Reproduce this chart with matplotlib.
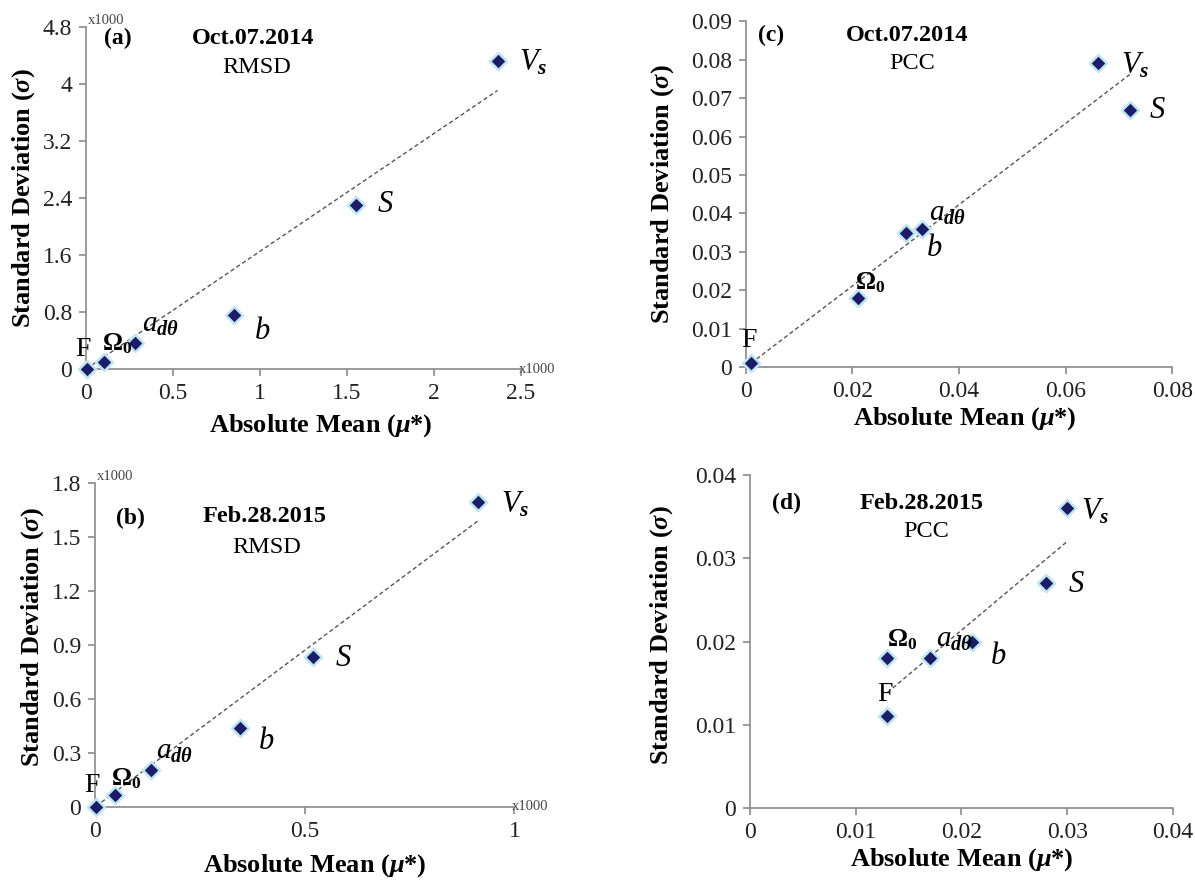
import numpy as np
import matplotlib
matplotlib.use("Agg")
import matplotlib.pyplot as plt

plt.rcParams["font.family"] = ["Liberation Serif", "DejaVu Serif"]
plt.rcParams["mathtext.fontset"] = "custom"
plt.rcParams["mathtext.rm"] = "Liberation Serif"
plt.rcParams["mathtext.it"] = "Liberation Serif:italic"
plt.rcParams["mathtext.bf"] = "Liberation Serif:bold"
plt.rcParams["mathtext.bfit"] = "Liberation Serif:bold:italic"

# Parameters (same order in every panel)
params = ["F", "Omega0", "a_dtheta", "b", "S", "Vs"]

# (a) Oct.07.2014, RMSD  (values in thousands)
rmsd_oct_mu = [0.005, 0.105, 0.28, 0.85, 1.55, 2.365]
rmsd_oct_sigma = [0.0, 0.105, 0.36, 0.755, 2.31, 4.33]

# (b) Feb.28.2015, RMSD  (values in thousands)
rmsd_feb_mu = [0.002, 0.047, 0.133, 0.345, 0.519, 0.913]
rmsd_feb_sigma = [0.0, 0.069, 0.204, 0.44, 0.833, 1.694]

# (c) Oct.07.2014, PCC
pcc_oct_mu = [0.001, 0.021, 0.033, 0.030, 0.072, 0.066]
pcc_oct_sigma = [0.001, 0.018, 0.036, 0.035, 0.067, 0.079]

# (d) Feb.28.2015, PCC
pcc_feb_mu = [0.013, 0.013, 0.017, 0.021, 0.028, 0.030]
pcc_feb_sigma = [0.011, 0.018, 0.018, 0.020, 0.027, 0.036]

# Axis ticks
a_xticks = [0, 0.5, 1, 1.5, 2, 2.5]
a_yticks = [0, 0.8, 1.6, 2.4, 3.2, 4, 4.8]
b_xticks = [0, 0.5, 1]
b_yticks = [0, 0.3, 0.6, 0.9, 1.2, 1.5, 1.8]
c_xticks = [0, 0.02, 0.04, 0.06, 0.08]
c_yticks = [0, 0.01, 0.02, 0.03, 0.04, 0.05, 0.06, 0.07, 0.08, 0.09]
d_xticks = [0, 0.01, 0.02, 0.03, 0.04]
d_yticks = [0, 0.01, 0.02, 0.03, 0.04]

LABEL_TEXT = {
    "F": ("F", dict(fontsize=20)),
    "Omega0": (r"$\mathbf{\Omega_0}$", dict(fontsize=18)),
    "a_dtheta": (r"$a_{\mathbfit{d\theta}}$", dict(fontsize=21)),
    "b": (r"$b$", dict(fontsize=22)),
    "S": (r"$S$", dict(fontsize=22)),
    "Vs": (r"$V_{\mathbfit{s}}$", dict(fontsize=22)),
}

MARKER_FACE = "#1c1c6b"
MARKER_EDGE = "#bfe6ee"
AXIS_GREY = "#8a8a8a"
TEXT_DARK = "#222222"

fig = plt.figure(figsize=(11.95, 8.83), dpi=100)


def fmt(v):
    return f"{round(v, 4):g}"


def panel(rect, mu, sigma, xticks, yticks, tag, date, metric, tag_xy, date_xy,
          metric_xy, label_xy, xlabel_pos, ylabel_pos, unit_marks=False):
    ax = fig.add_axes(rect)
    mu = np.asarray(mu, float)
    sigma = np.asarray(sigma, float)

    # linear trend forced through the origin
    slope = np.sum(mu * sigma) / np.sum(mu * mu)
    xs = np.array([mu.min(), mu.max()])
    ax.plot(xs, slope * xs, ls=(0, (3, 2)), lw=1.0, color="#555555", zorder=2)

    ax.scatter(mu, sigma, marker="D", s=75, facecolor=MARKER_FACE,
               edgecolor=MARKER_EDGE, linewidths=1.8, zorder=3, clip_on=False)

    ax.set_xlim(xticks[0], xticks[-1])
    ax.set_ylim(yticks[0], yticks[-1])
    ax.set_xticks(xticks)
    ax.set_yticks(yticks)
    ax.set_xticklabels([fmt(v) for v in xticks])
    ax.set_yticklabels([fmt(v) for v in yticks])
    for s in ("top", "right"):
        ax.spines[s].set_visible(False)
    for s in ("left", "bottom"):
        ax.spines[s].set_color(AXIS_GREY)
        ax.spines[s].set_linewidth(1.2)
    ax.tick_params(direction="out", length=5, width=1.2, color=AXIS_GREY,
                   labelsize=17, labelcolor=TEXT_DARK, pad=5)
    ax.set_xlabel(r"Absolute Mean ($\mathbfit{\mu}$*)", fontsize=19,
                  fontweight="bold", va="center")
    ax.set_ylabel(r"Standard Deviation ($\mathbfit{\sigma}$)", fontsize=19,
                  fontweight="bold", va="center")
    ax.xaxis.set_label_coords(*xlabel_pos)
    ax.yaxis.set_label_coords(*ylabel_pos)

    ax.text(*tag_xy, tag, fontsize=17, fontweight="bold", ha="center",
            va="center")
    ax.text(*date_xy, date, fontsize=17.5, fontweight="bold", ha="center",
            va="center")
    ax.text(*metric_xy, metric, fontsize=17.5, ha="center", va="center")

    for key, (x, y, ha) in label_xy.items():
        txt, kw = LABEL_TEXT[key]
        ax.text(x, y, txt, ha=ha, va="center", color="black", **kw)

    if unit_marks:
        ax.text(0.005, 1.0, "x1000", transform=ax.transAxes, fontsize=10.5,
                ha="left", va="bottom", color="#444444")
        ax.text(0.995, 0.0, "x1000", transform=ax.transAxes, fontsize=10.5,
                ha="left", va="center", color="#444444")
    return ax


panel([0.072, 0.582, 0.364, 0.387], rmsd_oct_mu, rmsd_oct_sigma,
      a_xticks, a_yticks, "(a)", "Oct.07.2014", "RMSD",
      (0.18, 4.64), (0.96, 4.64), (0.98, 4.24),
      {"F": (-0.02, 0.28, "center"), "Omega0": (0.18, 0.36, "center"),
       "a_dtheta": (0.43, 0.62, "center"), "b": (1.01, 0.53, "center"),
       "S": (1.72, 2.31, "center"), "Vs": (2.49, 4.31, "left")},
      (0.54, -0.164), (-0.143, 0.5), unit_marks=True)

panel([0.624, 0.584, 0.357, 0.392], pcc_oct_mu, pcc_oct_sigma,
      c_xticks, c_yticks, "(c)", "Oct.07.2014", "PCC",
      (0.0047, 0.0863), (0.0303, 0.0863), (0.0313, 0.0789),
      {"F": (0.0006, 0.0069, "center"), "Omega0": (0.0234, 0.0221, "center"),
       "a_dtheta": (0.0378, 0.0399, "center"), "b": (0.0353, 0.0308, "center"),
       "S": (0.0756, 0.0668, "left"), "Vs": (0.0703, 0.0785, "left")},
      (0.514, -0.147), (-0.194, 0.5))

panel([0.0795, 0.0861, 0.351, 0.367], rmsd_feb_mu, rmsd_feb_sigma,
      b_xticks, b_yticks, "(b)", "Feb.28.2015", "RMSD",
      (0.084, 1.60), (0.403, 1.611), (0.409, 1.444),
      {"F": (-0.007, 0.12, "center"), "Omega0": (0.075, 0.157, "center"),
       "a_dtheta": (0.19, 0.305, "center"), "b": (0.409, 0.361, "center"),
       "S": (0.592, 0.824, "center"), "Vs": (0.968, 1.676, "left")},
      (0.524, -0.182), (-0.148, 0.525), unit_marks=True)

panel([0.6276, 0.0849, 0.354, 0.377], pcc_feb_mu, pcc_feb_sigma,
      d_xticks, d_yticks, "(d)", "Feb.28.2015", "PCC",
      (0.00345, 0.0366), (0.0162, 0.0366), (0.0167, 0.0332),
      {"F": (0.0128, 0.0137, "center"), "Omega0": (0.0144, 0.0202, "center"),
       "a_dtheta": (0.0193, 0.0202, "center"), "b": (0.0235, 0.0182, "center"),
       "S": (0.0309, 0.0268, "center"), "Vs": (0.0313, 0.0356, "left")},
      (0.5, -0.156), (-0.208, 0.52))

fig.savefig("out.png", dpi=100, facecolor="white")
